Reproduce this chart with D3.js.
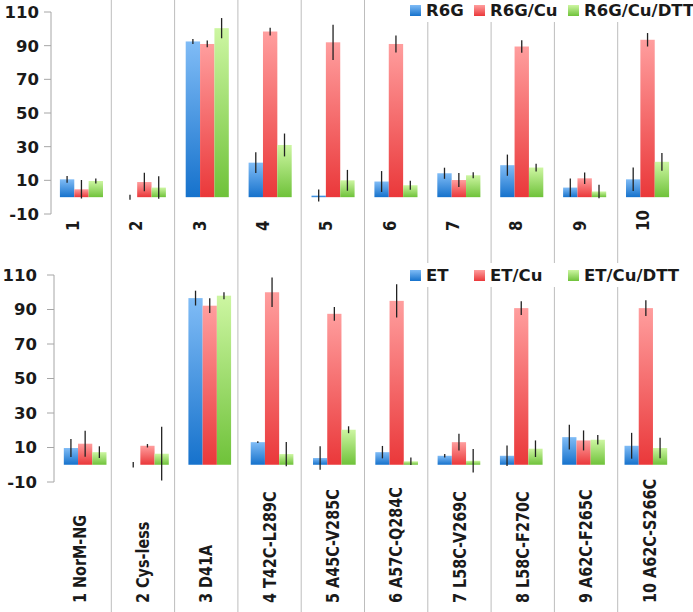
<!DOCTYPE html>
<html>
<head>
<meta charset="utf-8">
<script src="https://cdn.jsdelivr.net/npm/d3@7"></script>
<style>
  body { margin: 0; background: #fff; }
  svg { display: block; font-family: "DejaVu Sans", sans-serif; font-weight: bold; }
</style>
</head>
<body>
<script>
width = 693
height = 612

// categories
var categories = ["1", "2", "3", "4", "5", "6", "7", "8", "9", "10"];
var categoryNames = ["1 NorM-NG", "2 Cys-less", "3 D41A", "4 T42C-L289C", "5 A45C-V285C",
  "6 A57C-Q284C", "7 L58C-V269C", "8 L58C-F270C", "9 A62C-F265C", "10 A62C-S266C"];
var yTicks = [-10, 10, 30, 50, 70, 90, 110];

// top panel (R6G)
var topSeries = ["R6G", "R6G/Cu", "R6G/Cu/DTT"];
var r6g        = [10.6, 0, 92.5, 20.5, 1, 9.3, 14.2, 19, 5.7, 10.6];
var r6gErr     = [2, 1.5, 1.5, 6.2, 3.5, 6.2, 3.3, 6.3, 5.4, 7];
var r6gCu      = [4.7, 9, 91, 98.4, 92, 91, 10.2, 89.5, 11.2, 93.5];
var r6gCuErr   = [5.5, 5.5, 2, 2.3, 10.5, 5, 4.2, 3.7, 3.4, 4];
var r6gCuDtt   = [9.6, 5.7, 100.4, 31, 10, 7.1, 13, 17.6, 3.4, 21];
var r6gCuDttErr = [1.5, 6.7, 6, 6.8, 6.2, 2.7, 1.8, 2.3, 4, 5.3];

// bottom panel (ET)
var bottomSeries = ["ET", "ET/Cu", "ET/Cu/DTT"];
var et        = [9.7, 0, 96.6, 13.1, 3.9, 7.3, 5.2, 5.2, 16, 11];
var etErr     = [5.2, 1.6, 4.3, 0.5, 6.8, 3.6, 1, 5.9, 7.2, 7.5];
var etCu      = [12.2, 11, 92.2, 100, 87.5, 95, 13.1, 90.8, 14.1, 90.8];
var etCuErr   = [7.5, 1, 4.3, 8.5, 4, 9.7, 4.8, 4, 5.8, 4.5];
var etCuDtt   = [7.3, 6.4, 98, 6.2, 20.3, 2, 2.3, 9.3, 14.5, 9.7];
var etCuDttErr = [3.4, 15.6, 2, 7, 2, 2.2, 6.8, 4.8, 2.8, 6];

// gradient stops per series index: [top, bottom]
var gradColors = [["#80bcf6", "#1672cc"], ["#ff9e9e", "#ea383a"], ["#cdf6a2", "#6fc23a"]];

const svg = d3.select("body").append("svg")
  .attr("width", width)
  .attr("height", height);

const defs = svg.append("defs");
gradColors.forEach((c, i) => {
  const g = defs.append("linearGradient")
    .attr("id", "grad" + i)
    .attr("x1", 0).attr("y1", 0).attr("x2", 0).attr("y2", 1);
  g.append("stop").attr("offset", "0%").attr("stop-color", c[0]);
  g.append("stop").attr("offset", "100%").attr("stop-color", c[1]);
});

// separators between categories, shared by both panels
var sep = d3.scaleBand().domain(categories).range([48, 681]);
svg.append("g")
  .selectAll("line")
  .data(categories.slice(1))
  .join("line")
    .attr("x1", d => sep(d)).attr("x2", d => sep(d))
    .attr("y1", 0).attr("y2", height)
    .attr("stroke", "#bdbdbd")
    .attr("stroke-width", 1);

function panel(opts) {
  const y = d3.scaleLinear().domain([-10, 110]).range(opts.yRange);
  const x0 = d3.scaleBand().domain(categories).range(opts.xRange);
  const x1 = d3.scaleBand().domain(d3.range(3)).range([0, x0.bandwidth()]).paddingOuter(0.69);

  const g = svg.append("g");

  // y axis
  g.append("line")
    .attr("x1", opts.axisX).attr("x2", opts.axisX)
    .attr("y1", y(110)).attr("y2", y(-10))
    .attr("stroke", "#a6a6a6");
  g.selectAll(".tick")
    .data(yTicks)
    .join("line")
      .attr("x1", opts.axisX - 7).attr("x2", opts.axisX)
      .attr("y1", d => y(d)).attr("y2", d => y(d))
      .attr("stroke", "#a6a6a6");
  g.selectAll(".ylab")
    .data(yTicks)
    .join("text")
      .attr("x", opts.labelX)
      .attr("y", d => y(d))
      .attr("dy", "0.36em")
      .attr("text-anchor", "end")
      .attr("font-size", 16.5)
      .attr("fill", "#1a1a1a")
      .text(d => d);

  // bars
  const rows = [];
  opts.values.forEach((vals, s) => {
    vals.forEach((v, i) => rows.push({ cat: categories[i], s: s, v: v, e: opts.errors[s][i] }));
  });

  g.append("g")
    .selectAll("rect")
    .data(rows)
    .join("rect")
      .attr("x", d => x0(d.cat) + x1(d.s))
      .attr("width", x1.bandwidth())
      .attr("y", d => y(Math.max(0, d.v)))
      .attr("height", d => Math.abs(y(d.v) - y(0)))
      .attr("fill", d => "url(#grad" + d.s + ")");

  g.append("g")
    .selectAll("line")
    .data(rows)
    .join("line")
      .attr("x1", d => x0(d.cat) + x1(d.s) + x1.bandwidth() / 2)
      .attr("x2", d => x0(d.cat) + x1(d.s) + x1.bandwidth() / 2)
      .attr("y1", d => y(d.v + d.e))
      .attr("y2", d => y(d.v - d.e))
      .attr("stroke", "#222")
      .attr("stroke-width", 1.3);

  // category labels, rotated
  g.selectAll(".xlab")
    .data(opts.names)
    .join("text")
      .attr("transform", (d, i) => "translate(" + (sep(categories[i]) + sep.bandwidth() / 2 + opts.labelShift) + "," + opts.labelY + ") rotate(-90) scale(1,1.2)")
      .attr("dy", "0.36em")
      .attr("font-size", opts.labelSize)
      .attr("fill", "#1a1a1a")
      .text(d => d);

  // legend
  const leg = g.append("g");
  leg.append("rect")
    .attr("x", 400).attr("y", opts.legendY - 12)
    .attr("width", width - 400).attr("height", 24)
    .attr("fill", "#fff");
  opts.series.forEach((name, s) => {
    leg.append("rect")
      .attr("x", opts.legendX[s]).attr("y", opts.legendY - 5)
      .attr("width", 11).attr("height", 11)
      .attr("fill", "url(#grad" + s + ")");
    leg.append("text")
      .attr("x", opts.legendX[s] + 16).attr("y", opts.legendY + 6)
      .attr("font-size", 16.5)
      .attr("fill", "#1a1a1a")
      .text(name);
  });
}

panel({
  yRange: [214, 12], xRange: [50, 679], axisX: 51, labelX: 39,
  values: [r6g, r6gCu, r6gCuDtt], errors: [r6gErr, r6gCuErr, r6gCuDttErr],
  names: categories, labelY: 231, labelShift: -7, labelSize: 15,
  series: topSeries, legendX: [410, 474, 568], legendY: 10
});

panel({
  yRange: [482, 275], xRange: [54, 677], axisX: 54, labelX: 37,
  values: [et, etCu, etCuDtt], errors: [etErr, etCuErr, etCuDttErr],
  names: categoryNames, labelY: 603, labelShift: 0, labelSize: 14.4,
  series: bottomSeries, legendX: [410, 474, 568], legendY: 275
});
</script>
</body>
</html>
